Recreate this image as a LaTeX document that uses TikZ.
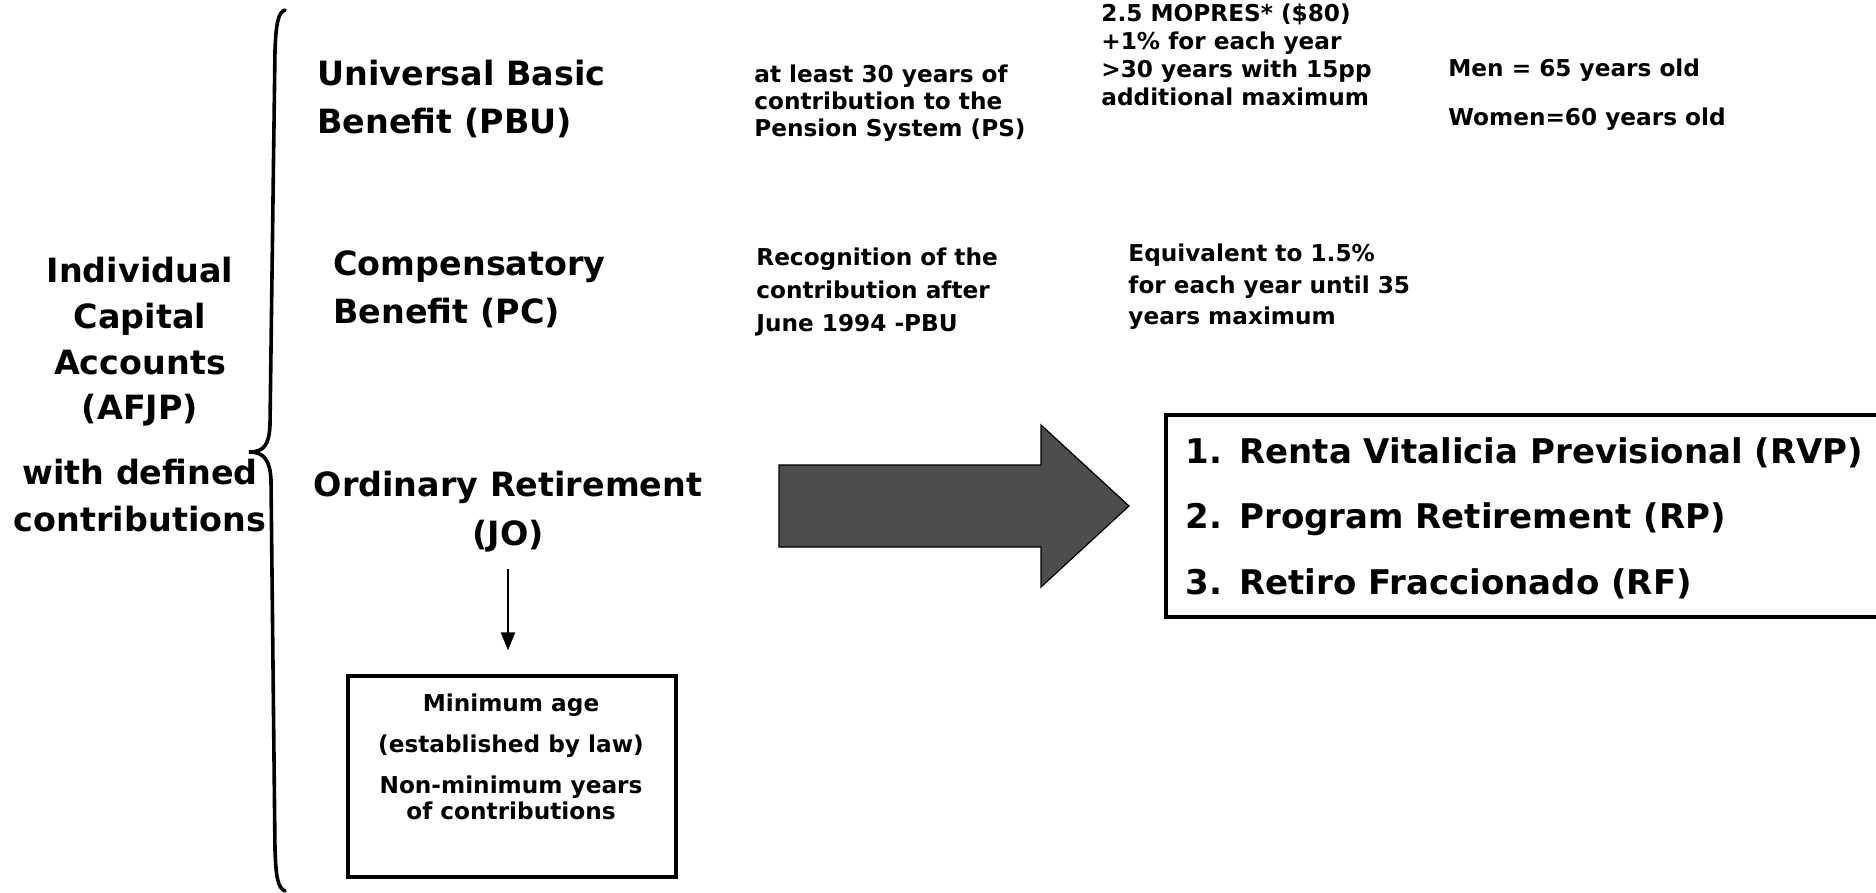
\documentclass[tikz,border=0pt]{standalone}
\usepackage{fontspec}
\setmainfont{DejaVu Sans}
\usetikzlibrary{arrows.meta}
\definecolor{arrowgray}{RGB}{77,77,77}
\begin{document}
\begin{tikzpicture}[x=0.5pt,y=-0.5pt,
  bigtxt/.style={font=\bfseries\fontsize{16.7}{24}\selectfont, inner sep=0pt},
  smalltxt/.style={inner sep=0pt, align=left, anchor=west},
  frame/.style={draw=black, line width=1.6pt, inner sep=0pt},
]
\useasboundingbox (0,0) rectangle (1876,893);

% brace
\draw[line width=1.8pt, line cap=round] (285,10) .. controls (278,12) and (276,25) .. (275,50) -- (270,425) .. controls (269,445) and (264,452) .. (249,452) .. controls (264,452) and (270,460) .. (271,480) -- (275,850) .. controls (276,878) and (278,888) .. (285,891);

% left labels
\node[bigtxt, align=center, font=\bfseries\fontsize{16.7}{22.8}\selectfont] (afjp) at (140,342) {Individual\\Capital\\Accounts\\(AFJP)};
\node[bigtxt, align=center, font=\bfseries\fontsize{16.7}{23.5}\selectfont] (wdc) at (140,496) {with defined\\contributions};

% benefit labels
\node[bigtxt, align=left, anchor=west] (pbu) at (317,99) {Universal Basic\\Benefit (PBU)};
\node[bigtxt, align=left, anchor=west] (pc) at (333,289) {Compensatory\\Benefit (PC)};
\node[bigtxt, align=center, font=\bfseries\fontsize{16.7}{24.5}\selectfont] (jo) at (508,512) {Ordinary Retirement\\(JO)};

% minimum box
\node[frame, minimum width=164pt, minimum height=100.5pt] (minbox) at (512,776.5) {};
\node[font=\bfseries\fontsize{11.6}{13}\selectfont, align=center, inner sep=0pt] (mintext) at (511,757) {Minimum age\\[7.5pt](established by law)\\[7.5pt]Non-minimum years\\of contributions};
\draw[line width=1pt, -{Triangle[length=9pt,width=7pt]}] ([yshift=-8pt]jo.south) -- ([yshift=12pt]jo.south |- minbox.north);

% small texts
\node[smalltxt, font=\bfseries\fontsize{11.6}{13.5}\selectfont] (ps) at (754,103) {at least 30 years of\\contribution to the\\Pension System (PS)};
\node[smalltxt, font=\bfseries\fontsize{11.6}{14}\selectfont] (mopres) at (1101,55) {2.5 MOPRES* (\$80)\\+1\% for each year\\>30 years with 15pp\\additional maximum};
\node[smalltxt, font=\bfseries\fontsize{11.6}{14}\selectfont] (men) at (1448,70) {Men = 65 years old};
\node[smalltxt, font=\bfseries\fontsize{11.6}{14}\selectfont] (women) at (1448,119) {Women=60 years old};
\node[smalltxt, font=\bfseries\fontsize{11.6}{16.5}\selectfont] (recog) at (756,292) {Recognition of the\\contribution after\\June 1994 -PBU};
\node[smalltxt, font=\bfseries\fontsize{11.6}{15.75}\selectfont] (equiv) at (1128,287) {Equivalent to 1.5\%\\for each year until 35\\years maximum};

% block arrow
\path[draw=black, line width=0.6pt, fill=arrowgray] (779,465) -- (1041,465) -- (1041,425) -- (1129,506) -- (1041,587) -- (1041,547) -- (779,547) -- cycle;

% right box
\node[frame, minimum width=357pt, minimum height=101pt] (rbox) at (1523,516) {};
\node[font=\bfseries\fontsize{17}{32.75}\selectfont, align=left, inner sep=0pt, anchor=west] (rtext) at (1185,518) {\makebox[27pt][l]{1.}Renta Vitalicia Previsional (RVP)\\\makebox[27pt][l]{2.}Program Retirement (RP)\\\makebox[27pt][l]{3.}Retiro Fraccionado (RF)};
\end{tikzpicture}
\end{document}
